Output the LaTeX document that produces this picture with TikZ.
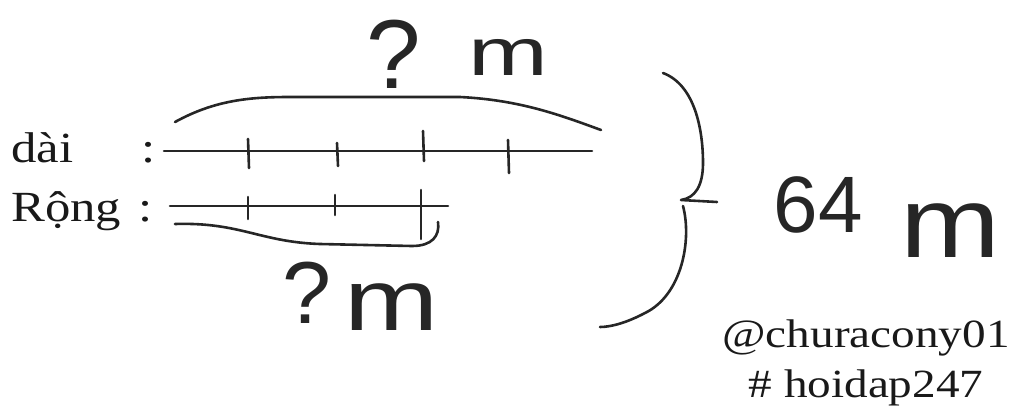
\documentclass[tikz,border=0pt]{standalone}
\usepackage{fontspec}
\usepackage{graphicx}
\setmainfont[FakeStretch=1.18]{Liberation Serif}
\newfontfamily\handfont{Liberation Sans}
\usetikzlibrary{positioning}

\begin{document}
\begin{tikzpicture}[x=1pt,y=-1pt]

\tikzset{pen/.style={line width=2.6pt, line cap=round, line join=round, draw=black!85},
         notch/.style={line width=2.6pt, line cap=round, draw=black!85},
         label-text/.style={font=\fontsize{#1}{#1}\selectfont, inner sep=0pt, text=black!90},
         label-text/.default=43,
         hand-text/.style={font=\handfont\fontsize{#1}{#1}\selectfont, inner sep=0pt, text=black!85},
         hand-text/.default=80}

\useasboundingbox (0,0) rectangle (1024,415);

% labels on the left
\node[label-text, anchor=base west] (dai) at (11,162) {dài};
\node[label-text, anchor=base west] (rong) at (11,221) {Rộng};
\node[label-text, anchor=base] (dai-colon) at (149,162) {:};
\node[label-text, anchor=base] (rong-colon) at (146,221) {:};

% the two segments
\coordinate (dai-start) at (164,151);
\coordinate (dai-end) at (592,151);
\coordinate (rong-start) at (170,206);
\coordinate (rong-end) at (448,206);
\draw[pen] (dai-start) -- (dai-end);
\draw[pen] (rong-start) -- (rong-end);

\foreach \x/\a/\b in {248/139/168, 337/143/166, 423/131/161, 508/140/173}
  \draw[notch] (\x,\a) -- (\x+1,\b);
\foreach \x/\a/\b in {248/197/219, 335/195/215, 421/190/239}
  \draw[notch] (\x,\a) -- (\x,\b);

% braces
\coordinate (top-left) at (175,122);
\coordinate (top-right) at (601,130);
\draw[pen] (top-left) .. controls (215,100) and (250,97) .. (290,97)
  -- (460,97) .. controls (520,100) and (560,115) .. (top-right);

\coordinate (low-left) at (175,224);
\coordinate (low-right) at (438,222);
\draw[pen] (low-left) .. controls (240,222) and (260,242) .. (320,244)
  -- (412,246) .. controls (432,246) and (440,236) .. (low-right);

\coordinate (sum-top) at (663,73);
\coordinate (sum-tip) at (717,202);
\coordinate (sum-bottom) at (600,327);
\draw[pen] (sum-top) .. controls (695,85) and (703,130) .. (703,163)
  .. controls (703,186) and (695,198) .. (681,200) -- (sum-tip);
\draw[pen] (683,206) .. controls (692,240) and (682,295) .. (645,313)
  .. controls (628,322) and (612,327) .. (sum-bottom);

% handwritten values
\node[hand-text=98] (dai-q) at (394,54) {?};
\node[hand-text=67] (dai-m) at (508,57) {\scalebox{1.43}[1]{m}};
\node[hand-text=88] (rong-q) at (307,293) {?};
\node[hand-text=87] (rong-m) at (392,307) {\scalebox{1.3}[1]{m}};
\node[hand-text=80] (sum-num) at (818,205) {64};
\node[hand-text=100] (sum-m) at (950,231) {\scalebox{1.2}[1]{m}};

% watermark
\node[label-text=40, anchor=base] (author) at (866,347) {@churacony01};
\node[label-text=40, below=14pt of author] (tag) {\# hoidap247};

\end{tikzpicture}
\end{document}
